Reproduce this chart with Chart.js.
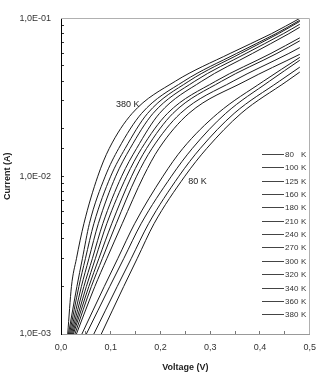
<!DOCTYPE html>
<html>
<head>
<meta charset="utf-8">
<script src="https://cdn.jsdelivr.net/npm/chart.js@4/dist/chart.umd.min.js"></script>
<style>
    html, body { margin: 0; padding: 0; background: #fff; }
    #grafico { display: block; }
</style>
</head>
<body>
<canvas id="grafico" width="327" height="374"></canvas>
<script>
// temperatures, in legend order
var temperatures = ['80 K', '100 K', '125 K', '160 K', '180 K', '210 K', '240 K', '270 K', '300 K', '320 K', '340 K', '360 K', '380 K'];

// current levels (A) at which the voltage of each curve was read
var currentLevels = [1e-3, 2e-3, 3e-3, 5e-3, 1e-2, 1.5e-2, 2.5e-2, 4e-2, 6e-2, 8e-2];

// voltage (V) of each curve at the current levels above
var v80 = [0.081, 0.126, 0.153, 0.187, 0.249, 0.293, 0.362, 0.454];
var v100 = [0.066, 0.113, 0.141, 0.176, 0.237, 0.280, 0.348, 0.439];
var v125 = [0.051, 0.098, 0.126, 0.161, 0.222, 0.264, 0.331, 0.419];
var v160 = [0.042, 0.087, 0.114, 0.148, 0.205, 0.245, 0.315, 0.407];
var v180 = [0.031, 0.068, 0.092, 0.123, 0.166, 0.197, 0.257, 0.370];
var v210 = [0.028, 0.061, 0.083, 0.111, 0.152, 0.183, 0.240, 0.346, 0.458];
var v240 = [0.025, 0.056, 0.076, 0.102, 0.142, 0.172, 0.225, 0.323, 0.434];
var v270 = [0.023, 0.051, 0.069, 0.092, 0.132, 0.162, 0.214, 0.311, 0.422];
var v300 = [0.021, 0.046, 0.063, 0.084, 0.122, 0.152, 0.198, 0.283, 0.385, 0.458];
var v320 = [0.019, 0.041, 0.056, 0.075, 0.110, 0.139, 0.185, 0.269, 0.372, 0.447];
var v340 = [0.017, 0.036, 0.049, 0.066, 0.100, 0.129, 0.174, 0.257, 0.361, 0.437];
var v360 = [0.015, 0.032, 0.043, 0.057, 0.089, 0.116, 0.162, 0.247, 0.353, 0.432];
var v380 = [0.0135, 0.021, 0.031, 0.046, 0.074, 0.097, 0.143, 0.230, 0.340, 0.423];

// current (A) of each curve at the last measured voltage
var endVoltage = 0.48;
var endCurrent = [0.0457, 0.0491, 0.0543, 0.0566, 0.0592, 0.0653, 0.0721, 0.0753, 0.0879, 0.0918, 0.0957, 0.0973, 0.100];

var xTicks = [0, 0.1, 0.2, 0.3, 0.4, 0.5];
var yTicks = [1e-3, 1e-2, 1e-1];

var curves = [v80, v100, v125, v160, v180, v210, v240, v270, v300, v320, v340, v360, v380];

var fonte = "'Liberation Sans', Arial, sans-serif";

function montarPontos(volts, fim) {
    var pontos = volts.map(function (v, i) {
        return { x: v, y: currentLevels[i] };
    });
    pontos.push({ x: endVoltage, y: fim });
    return pontos;
}

var datasets = temperatures.map(function (t, i) {
    return {
        label: t,
        data: montarPontos(curves[i], endCurrent[i]),
        borderColor: '#1a1a1a',
        borderWidth: 1,
        pointRadius: 0,
        fill: false,
        cubicInterpolationMode: 'monotone'
    };
});

function formatarExpoente(valor) {
    var e = Math.round(Math.log10(valor));
    var n = Math.abs(e);
    return '1,0E' + (e < 0 ? '-' : '+') + (n < 10 ? '0' : '') + n;
}

var extras = {
    id: 'extras',
    afterDraw: function (chart) {
        var ctx = chart.ctx;
        var area = chart.chartArea;
        var xs = chart.scales.x;
        var ys = chart.scales.y;

        ctx.save();

        // top and right border
        ctx.strokeStyle = '#b0b0b0';
        ctx.lineWidth = 1;
        ctx.beginPath();
        ctx.moveTo(area.left, Math.round(area.top) + 0.5);
        ctx.lineTo(Math.round(area.right) - 0.5, Math.round(area.top) + 0.5);
        ctx.lineTo(Math.round(area.right) - 0.5, area.bottom);
        ctx.stroke();

        // legend inside the plot: number left aligned, unit in its own column
        ctx.font = '8px ' + fonte;
        ctx.textBaseline = 'middle';
        chart.data.datasets.forEach(function (ds, i) {
            var y = Math.round(154 + i * 13.35) + 0.5;
            var partes = ds.label.split(' ');
            ctx.strokeStyle = '#444';
            ctx.beginPath();
            ctx.moveTo(262, y);
            ctx.lineTo(284, y);
            ctx.stroke();
            ctx.fillStyle = '#333';
            ctx.textAlign = 'left';
            ctx.fillText(partes[0], 285, y);
            ctx.fillText(partes[1], 301, y);
        });

        // curve labels
        ctx.font = '9px ' + fonte;
        ctx.fillStyle = '#222';
        ctx.textAlign = 'right';
        ctx.fillText('380 K', xs.getPixelForValue(0.158), ys.getPixelForValue(0.0285));
        ctx.textAlign = 'left';
        ctx.fillText('80 K', xs.getPixelForValue(0.256), ys.getPixelForValue(0.0093));

        ctx.restore();
    }
};

new Chart(document.getElementById('grafico'), {
    type: 'line',
    data: { datasets: datasets },
    plugins: [extras],
    options: {
        responsive: false,
        animation: false,
        devicePixelRatio: 1,
        layout: { padding: { top: 10, right: 7, left: 0, bottom: 0 } },
        plugins: {
            legend: { display: false },
            tooltip: { enabled: false }
        },
        scales: {
            x: {
                type: 'linear',
                min: 0,
                max: 0.5,
                afterFit: function (scale) { scale.height = 40; },
                afterBuildTicks: function (scale) {
                    var lista = [];
                    for (var i = 0; i <= 10; i++) {
                        lista.push({ value: i * 0.05 });
                    }
                    scale.ticks = lista;
                },
                ticks: {
                    autoSkip: false,
                    maxRotation: 0,
                    padding: 11,
                    color: '#333',
                    font: { family: fonte, size: 9 },
                    callback: function (valor) {
                        var hit = xTicks.some(function (t) { return Math.abs(t - valor) < 1e-6; });
                        return hit ? valor.toFixed(1).replace('.', ',') : '';
                    }
                },
                grid: {
                    drawOnChartArea: false,
                    drawTicks: true,
                    tickLength: -3,
                    color: '#777'
                },
                border: { color: '#999', width: 1 },
                title: {
                    display: true,
                    text: 'Voltage (V)',
                    color: '#222',
                    font: { family: fonte, size: 9, weight: 'bold' },
                    padding: { top: 0, bottom: 1 }
                }
            },
            y: {
                type: 'logarithmic',
                min: 1e-3,
                max: 1e-1,
                afterFit: function (scale) { scale.width = 61; },
                ticks: {
                    autoSkip: false,
                    padding: 13,
                    color: '#333',
                    font: { family: fonte, size: 9 },
                    callback: function (valor) {
                        var hit = yTicks.some(function (t) { return Math.abs(t - valor) / t < 1e-6; });
                        return hit ? formatarExpoente(valor) : '';
                    }
                },
                grid: {
                    drawOnChartArea: false,
                    drawTicks: true,
                    tickLength: -3,
                    color: '#333'
                },
                border: { color: '#000', width: 1 },
                title: {
                    display: true,
                    text: 'Current (A)',
                    color: '#222',
                    font: { family: fonte, size: 9, weight: 'bold' },
                    padding: { top: 2, bottom: 0 }
                }
            }
        }
    }
});
</script>
</body>
</html>
